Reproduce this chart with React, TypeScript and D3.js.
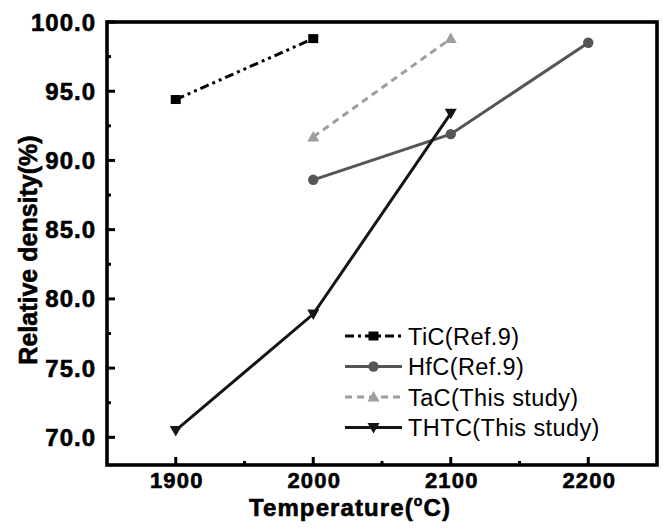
import React from "react";
import * as d3 from "d3";

const xTicks = [1900, 2000, 2100, 2200];
const yTicks = [70, 75, 80, 85, 90, 95, 100];

const ticTemps = [1900, 2000];
const ticVals = [94.4, 98.8];
const hfcTemps = [2000, 2100, 2200];
const hfcVals = [88.6, 91.9, 98.5];
const tacTemps = [2000, 2100];
const tacVals = [91.7, 98.8];
const thtcTemps = [1900, 2000, 2100];
const thtcVals = [70.5, 78.9, 93.4];

const seriesNames = ["TiC(Ref.9)", "HfC(Ref.9)", "TaC(This study)", "THTC(This study)"];

const W = 663, H = 532;
const L = 107, R = 657, T = 22, B = 465;
const FONT = "Arial, 'Liberation Sans', sans-serif";

export default function App() {
  const x = d3.scaleLinear().domain([1850, 2250]).range([L, R]);
  const y = d3.scaleLinear().domain([68, 100]).range([B, T]);

  const series = [
    { name: seriesNames[0], t: ticTemps, v: ticVals, color: "#000", dash: "9,4,3,4,3,4", marker: "square" },
    { name: seriesNames[1], t: hfcTemps, v: hfcVals, color: "#555", dash: "", marker: "circle" },
    { name: seriesNames[2], t: tacTemps, v: tacVals, color: "#9e9e9e", dash: "7,5", marker: "up" },
    { name: seriesNames[3], t: thtcTemps, v: thtcVals, color: "#151515", dash: "", marker: "down" },
  ];

  const line = d3.line<[number, number]>().x(d => x(d[0])).y(d => y(d[1]));

  const marker = (m: string, cx: number, cy: number, color: string, key: any) => {
    if (m === "square") return <rect key={key} x={cx - 5} y={cy - 4.5} width={10} height={9} fill={color} />;
    if (m === "circle") return <circle key={key} cx={cx} cy={cy} r={5.2} fill={color} />;
    if (m === "up") return <path key={key} d={`M${cx},${cy - 6} L${cx + 6},${cy + 4.5} L${cx - 6},${cy + 4.5} Z`} fill={color} />;
    return <path key={key} d={`M${cx},${cy + 6} L${cx + 6},${cy - 4.5} L${cx - 6},${cy - 4.5} Z`} fill={color} />;
  };

  const xMinor = d3.range(1850, 2251, 50).filter(v => v > 1850 && v < 2250 && !xTicks.includes(v));
  const yMinor = d3.range(70, 100, 2.5).filter(v => !yTicks.includes(v));

  const legendX1 = 345, legendX2 = 402, legendY0 = 336, legendDy = 30.5;

  return (
    <svg width={W} height={H} style={{ position: "absolute", left: 0, top: 0, background: "#fff" }} fontFamily={FONT}>
      <rect x={0} y={0} width={W} height={H} fill="#fff" />
      {series.map((s, i) => (
        <g key={i}>
          <path d={line(s.t.map((t, j) => [t, s.v[j]] as [number, number])) || ""} fill="none" stroke={s.color} strokeWidth={3} strokeDasharray={s.dash || undefined} />
          {s.t.map((t, j) => marker(s.marker, x(t), y(s.v[j]), s.color, j))}
        </g>
      ))}
      {/* frame */}
      <rect x={L} y={T} width={R - L} height={B - T} fill="none" stroke="#000" strokeWidth={3.6} />
      {xTicks.map(v => <line key={v} x1={x(v)} x2={x(v)} y1={B} y2={B - 8} stroke="#000" strokeWidth={3} />)}
      {xMinor.map(v => <line key={v} x1={x(v)} x2={x(v)} y1={B} y2={B - 4} stroke="#000" strokeWidth={3} />)}
      {yTicks.map(v => <line key={v} x1={L} x2={L + 8} y1={y(v)} y2={y(v)} stroke="#000" strokeWidth={3} />)}
      {yMinor.map(v => <line key={v} x1={L} x2={L + 4} y1={y(v)} y2={y(v)} stroke="#000" strokeWidth={3} />)}
      <g fontWeight="bold" stroke="#000" strokeWidth={0.6}>
        {xTicks.map(v => (
          <text key={v} x={x(v) + 1} y={488} textAnchor="middle" fontSize={22} letterSpacing={1.2}>{v}</text>
        ))}
        {yTicks.map(v => (
          <text key={v} x={96} y={y(v) + 8.5} textAnchor="end" fontSize={24} letterSpacing={1}>{v.toFixed(1)}</text>
        ))}
        <text x={350} y={516} textAnchor="middle" fontSize={24} letterSpacing={1.1}>
          Temperature(<tspan fontSize={14} dy={-10}>o</tspan><tspan dy={10}>C)</tspan>
        </text>
        <text transform={`translate(37,250) rotate(-90)`} textAnchor="middle" fontSize={25}>Relative density(%)</text>
      </g>
      {/* legend */}
      {series.map((s, i) => {
        const ly = legendY0 + i * legendDy;
        return (
          <g key={i}>
            <line x1={legendX1} x2={legendX2} y1={ly} y2={ly} stroke={s.color} strokeWidth={3} strokeDasharray={s.dash ? (i === 0 ? "9,4,3,4" : "7,5") : undefined} />
            {marker(s.marker, (legendX1 + legendX2) / 2, ly, s.color, "m")}
            <text x={408} y={ly + 8.5} fontSize={23.5} letterSpacing={0.4}>{s.name}</text>
          </g>
        );
      })}
    </svg>
  );
}
